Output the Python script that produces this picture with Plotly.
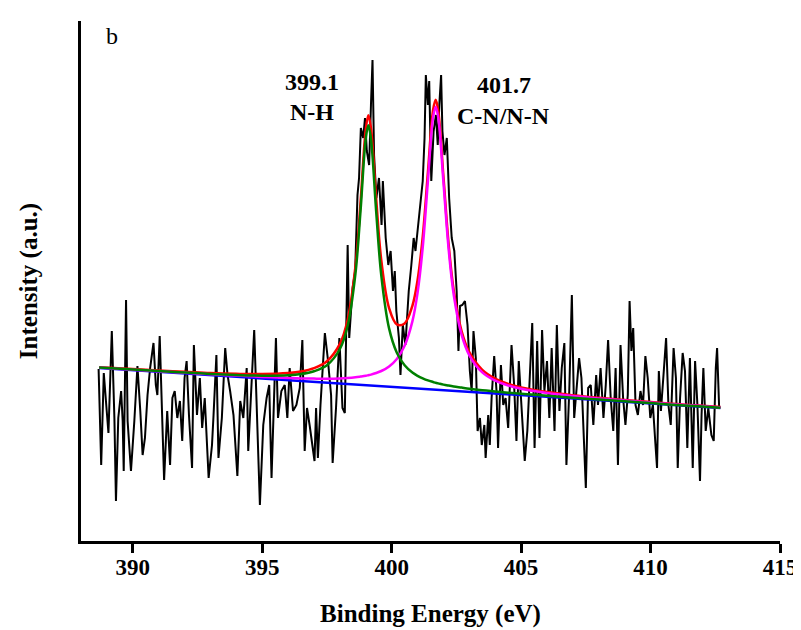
import plotly.graph_objects as go

# N 1s spectrum (intensity in arbitrary units)
be_raw = [388.68, 388.78, 388.88, 388.97, 389.06, 389.19, 389.29, 389.35, 389.44, 389.55,
          389.61, 389.65, 389.74, 389.80, 389.93, 390.06, 390.18, 390.29, 390.38, 390.47,
          390.57, 390.67, 390.80, 390.89, 390.95, 391.04, 391.12, 391.21, 391.33, 391.44,
          391.53, 391.62, 391.72, 391.82, 391.91, 392.00, 392.08, 392.17, 392.29, 392.36,
          392.48, 392.59, 392.68, 392.78, 392.93, 393.06, 393.12, 393.23, 393.31, 393.44,
          393.57, 393.66, 393.76, 393.89, 394.04, 394.15, 394.27, 394.40, 394.46, 394.59,
          394.69, 394.78, 394.91, 395.04, 395.17, 395.27, 395.36, 395.53, 395.61, 395.74,
          395.87, 395.97, 396.06, 396.19, 396.32, 396.45, 396.55, 396.64, 396.73, 396.83,
          396.93, 397.02, 397.08, 397.15, 397.25, 397.42, 397.53, 397.66, 397.72, 397.85,
          397.98, 398.10, 398.19, 398.30, 398.36, 398.49, 398.59, 398.68, 398.74, 398.81,
          398.90, 398.97, 399.04, 399.13, 399.20, 399.26, 399.32, 399.41, 399.51, 399.61,
          399.66, 399.77, 399.87, 399.96, 400.05, 400.12, 400.18, 400.28, 400.34, 400.43,
          400.53, 400.66, 400.76, 400.85, 400.92, 401.02, 401.11, 401.20, 401.27, 401.32,
          401.40, 401.45, 401.53, 401.62, 401.71, 401.78, 401.84, 401.91, 401.96, 402.04,
          402.13, 402.22, 402.32, 402.42, 402.51, 402.58, 402.64, 402.73, 402.83, 402.93,
          403.02, 403.09, 403.16, 403.25, 403.32, 403.41, 403.48, 403.58, 403.63, 403.73,
          403.79, 403.86, 403.96, 404.05, 404.11, 404.22, 404.31, 404.40, 404.50, 404.63,
          404.73, 404.82, 404.91, 405.01, 405.14, 405.24, 405.33, 405.43, 405.52, 405.62,
          405.71, 405.81, 405.90, 406.00, 406.09, 406.18, 406.29, 406.38, 406.48, 406.57,
          406.67, 406.75, 406.86, 406.96, 407.05, 407.15, 407.24, 407.33, 407.44, 407.50,
          407.59, 407.69, 407.79, 407.90, 407.97, 408.07, 408.18, 408.27, 408.36, 408.46,
          408.56, 408.65, 408.74, 408.84, 408.94, 409.03, 409.12, 409.19, 409.26, 409.33,
          409.42, 409.51, 409.61, 409.71, 409.80, 409.89, 409.99, 410.09, 410.18, 410.25,
          410.32, 410.40, 410.50, 410.60, 410.69, 410.78, 410.89, 410.98, 411.05, 411.14,
          411.24, 411.33, 411.42, 411.52, 411.63, 411.72, 411.81, 411.91, 411.97, 412.04,
          412.13, 412.23, 412.35, 412.44, 412.52, 412.57, 412.65]
cps_raw = [172, 76, 168, 140, 108, 210, 123, 40, 123, 150,
           120, 70, 241, 120, 70, 120, 175, 130, 86, 103,
           146, 173, 198, 156, 146, 205, 133, 61, 130, 76,
           143, 150, 123, 140, 100, 163, 180, 126, 73, 196,
           126, 163, 113, 143, 63, 96, 126, 186, 83, 123,
           193, 166, 150, 126, 65, 140, 123, 173, 90, 156,
           211, 140, 36, 116, 143, 156, 63, 203, 123, 150,
           156, 123, 173, 130, 136, 153, 201, 90, 133, 116,
           96, 80, 133, 83, 136, 208, 183, 146, 78, 133,
           203, 133, 128, 296, 203, 253, 270, 346, 363, 413,
           403, 423, 390, 376, 436, 481, 386, 343, 363, 316,
           360, 303, 276, 290, 250, 270, 230, 203, 166, 216,
           196, 250, 276, 303, 290, 316, 336, 360, 403, 466,
           436, 460, 360, 410, 426, 396, 436, 466, 410, 386,
           403, 343, 303, 290, 250, 190, 235, 236, 240, 216,
           170, 150, 210, 183, 110, 123, 96, 116, 83, 126,
           96, 143, 185, 150, 93, 176, 136, 143, 113, 196,
           156, 100, 180, 136, 80, 110, 166, 218, 93, 200,
           103, 211, 150, 180, 123, 193, 110, 216, 130, 173,
           198, 76, 150, 246, 123, 156, 183, 163, 90, 53,
           153, 156, 116, 166, 136, 173, 123, 156, 201, 143,
           110, 173, 76, 196, 143, 116, 146, 240, 190, 213,
           136, 126, 150, 136, 185, 163, 123, 136, 100, 73,
           170, 130, 166, 203, 136, 116, 193, 163, 73, 143,
           188, 170, 93, 183, 73, 180, 136, 60, 126, 173,
           110, 133, 106, 100, 173, 193, 133]

# fitted curves: background and the two components above it
fit_be = [388.7, 390, 391, 392, 393, 394, 395, 396, 396.5, 397, 397.5, 398, 398.3,
          398.6, 398.8, 399.0, 399.1, 399.2, 399.4, 399.6, 399.9, 400.2, 400.5, 400.8,
          401.0, 401.2, 401.4, 401.6, 401.7, 401.8, 402.0, 402.2, 402.4, 402.7, 403.0,
          403.5, 404, 404.5, 405, 406, 407, 408, 409, 410, 411, 412, 412.7]
bg = [173.0, 170.8, 169.2, 167.5, 165.8, 164.2, 162.5, 160.8, 160.0, 159.2, 158.3, 157.5, 157.0,
      156.5, 156.2, 155.8, 155.7, 155.5, 155.2, 154.8, 154.3, 153.8, 153.3, 152.8,
      152.5, 152.2, 151.8, 151.5, 151.3, 151.2, 150.8, 150.5, 150.2, 149.7, 149.2,
      148.3, 147.5, 146.7, 145.8, 144.2, 142.5, 140.8, 139.2, 137.5, 135.8, 134.2, 133.0]
nh = [0.4, 0.6, 0.7, 1.0, 1.3, 1.8, 2.8, 4.9, 6.9, 10.5, 17.5, 34.5, 58.3,
      110.6, 174.9, 246.7, 260.0, 246.7, 174.9, 110.6, 58.3, 34.5, 22.4, 15.6,
      12.7, 10.5, 8.8, 7.5, 6.9, 6.4, 5.6, 4.9, 4.3, 3.7, 3.1,
      2.5, 2.0, 1.6, 1.4, 1.0, 0.8, 0.6, 0.5, 0.4, 0.3, 0.3, 0.3]
cn = [0.4, 0.5, 0.6, 0.8, 0.9, 1.2, 1.6, 2.2, 2.6, 3.2, 4.0, 5.1, 6.0,
      7.2, 8.2, 9.4, 10.1, 10.9, 12.8, 15.2, 20.3, 28.3, 41.9, 66.8,
      95.6, 141.5, 208.1, 272.1, 283.0, 272.1, 208.1, 141.5, 95.6, 56.6, 36.5,
      20.3, 12.8, 8.8, 6.4, 3.8, 2.5, 1.8, 1.3, 1.0, 0.8, 0.7, 0.6]

x_ticks = [390, 395, 400, 405, 410, 415]

nh_line = [b + p for b, p in zip(bg, nh)]
cn_line = [b + p for b, p in zip(bg, cn)]
env_line = [b + p + q for b, p, q in zip(bg, nh, cn)]

font_fam = "Times New Roman, Liberation Serif, serif"

fig = go.Figure()
fig.add_trace(go.Scatter(x=be_raw, y=cps_raw, mode="lines",
                         line=dict(color="black", width=2)))
fig.add_trace(go.Scatter(x=fit_be, y=bg, mode="lines",
                         line=dict(color="#0000ff", width=2.5)))
fig.add_trace(go.Scatter(x=fit_be, y=env_line, mode="lines", line_shape="spline",
                         line=dict(color="#ff0000", width=2.5)))
fig.add_trace(go.Scatter(x=fit_be, y=cn_line, mode="lines", line_shape="spline",
                         line=dict(color="#ff00ff", width=2.5)))
fig.add_trace(go.Scatter(x=fit_be, y=nh_line, mode="lines", line_shape="spline",
                         line=dict(color="#008000", width=2.5)))

labels = [(396.93, 459, "<b>399.1</b>"), (396.93, 429, "<b>N-H</b>"),
          (404.33, 456, "<b>401.7</b>"), (404.33, 425, "<b>C-N/N-N</b>")]
for lx, ly, txt in labels:
    fig.add_annotation(x=lx, y=ly, text=txt, showarrow=False,
                       font=dict(family=font_fam, size=24, color="black"))
fig.add_annotation(x=389.2, y=505, text="b", showarrow=False,
                   font=dict(family=font_fam, size=24, color="black"))

fig.update_layout(
    width=801, height=630,
    margin=dict(l=73, r=23, t=13, b=97),
    paper_bgcolor="white", plot_bgcolor="white",
    showlegend=False,
    font=dict(family=font_fam, color="black"),
)
fig.update_xaxes(range=[388, 415], tickvals=x_ticks, ticks="outside", ticklen=9,
                 tickwidth=3, tickcolor="black", showline=True, linewidth=3,
                 linecolor="black", showgrid=False, zeroline=False,
                 ticklabelstandoff=-6,
                 tickfont=dict(family=font_fam, size=23, weight="bold"),
                 title=dict(text="<b>Binding Energy (eV)</b>", standoff=26,
                            font=dict(family=font_fam, size=25)))
fig.update_yaxes(range=[0, 520], showticklabels=False, ticks="", showline=True,
                 linewidth=3, linecolor="black", showgrid=False, zeroline=False,
                 title=dict(text="<b>Intensity (a.u.)</b>", standoff=34,
                            font=dict(family=font_fam, size=25)))

fig.write_html("out.html")
